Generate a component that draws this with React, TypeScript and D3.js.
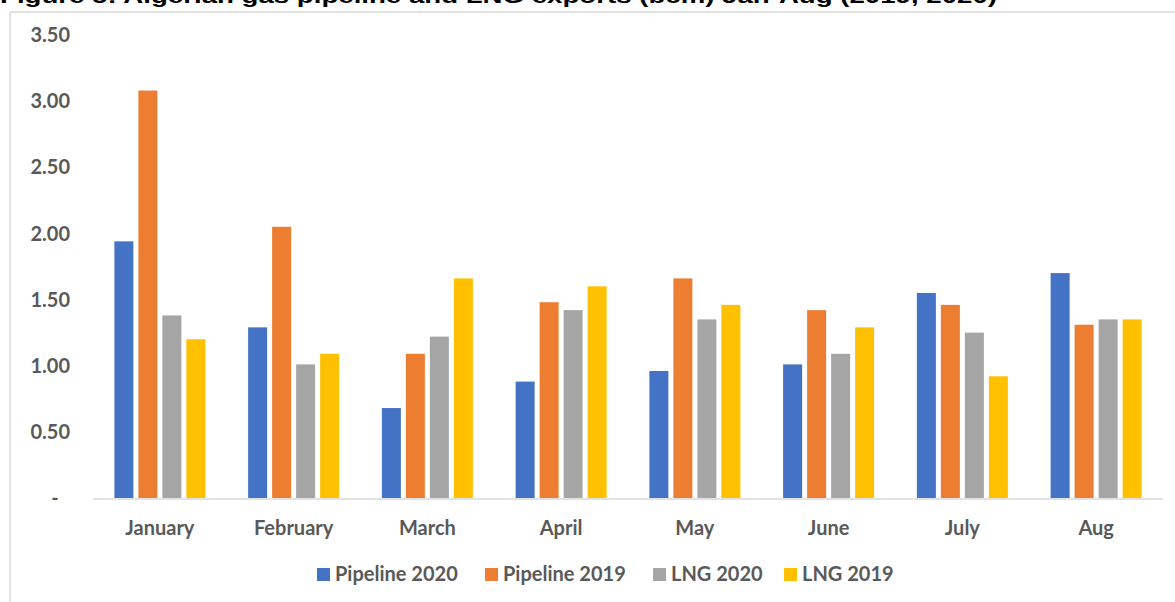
import React from "react";
import * as d3 from "d3";

const categories = ["January", "February", "March", "April", "May", "June", "July", "Aug"];
const seriesNames = ["Pipeline 2020", "Pipeline 2019", "LNG 2020", "LNG 2019"];
const pipeline2020 = [1.94, 1.29, 0.68, 0.88, 0.96, 1.01, 1.55, 1.70];
const pipeline2019 = [3.08, 2.05, 1.09, 1.48, 1.66, 1.42, 1.46, 1.31];
const lng2020 = [1.38, 1.01, 1.22, 1.42, 1.35, 1.09, 1.25, 1.35];
const lng2019 = [1.20, 1.09, 1.66, 1.60, 1.46, 1.29, 0.92, 1.35];
const yTicks = [0, 0.5, 1, 1.5, 2, 2.5, 3, 3.5];
const yTickLabels = ["-", "0.50", "1.00", "1.50", "2.00", "2.50", "3.00", "3.50"];
const titleText = "Figure 5: Algerian gas pipeline and LNG exports (bcm) Jan-Aug (2019, 2020)";

const colors = ["#4472C4", "#ED7D31", "#A5A5A5", "#FFC000"];
const seriesValues = [pipeline2020, pipeline2019, lng2020, lng2019];

const W = 1175;
const H = 602;
const font = "Lato, 'Open Sans', sans-serif";
const textColor = "#595959";

export default function App() {
  const x0 = d3.scaleBand<string>().domain(categories).range([93, 1163]).paddingInner(0).paddingOuter(0);
  const groupW = 91;
  const x1 = d3.scaleBand<string>().domain(seriesNames).range([0, groupW]).paddingInner(5 / 24).paddingOuter(0);
  const y = d3.scaleLinear().domain([0, 3.5]).range([498, 35]);
  const off = (x0.bandwidth() - groupW) / 2;

  const legendX = [317, 485, 653, 784];

  return (
    <svg
      width={W}
      height={H}
      style={{ position: "absolute", left: 0, top: 0, background: "#fff" }}
      xmlns="http://www.w3.org/2000/svg"
    >
      <rect x={0} y={0} width={W} height={H} fill="#fff" />
      <text
        x={0}
        y={2.5}
        fontFamily="'Liberation Sans', Arial, sans-serif"
        fontWeight="bold"
        fontSize={20}
        fill="#000"
        textLength={997}
        lengthAdjust="spacingAndGlyphs"
      >
        {titleText}
      </text>
      {/* frame */}
      <line x1={10} y1={12} x2={W} y2={12} stroke="#d9d9d9" strokeWidth={1.5} />
      <line x1={10} y1={12} x2={10} y2={H} stroke="#d9d9d9" strokeWidth={1.5} />

      {/* y tick labels */}
      {yTicks.map((t, i) => (
        <text
          key={t}
          x={t === 0 ? 55 : 70}
          y={y(t)}
          dy="0.36em"
          textAnchor={t === 0 ? "middle" : "end"}
          fontFamily={font}
          fontWeight="bold"
          fontSize={20}
          fill={textColor}
        >
          {yTickLabels[i]}
        </text>
      ))}

      {/* bars */}
      {categories.map((c, ci) => (
        <g key={c} transform={`translate(${(x0(c) as number) + off},0)`}>
          {seriesNames.map((s, si) => {
            const v = seriesValues[si][ci];
            return (
              <rect
                key={s}
                x={x1(s) as number}
                y={y(v)}
                width={x1.bandwidth()}
                height={y(0) - y(v)}
                fill={colors[si]}
              />
            );
          })}
        </g>
      ))}

      {/* x axis line */}
      <line x1={93} y1={y(0) + 1} x2={1163} y2={y(0) + 1} stroke="#d9d9d9" strokeWidth={1.5} />

      {/* category labels */}
      {categories.map((c) => (
        <text
          key={c}
          x={(x0(c) as number) + x0.bandwidth() / 2}
          y={535}
          textAnchor="middle"
          fontFamily={font}
          fontWeight="bold"
          fontSize={20}
          fill={textColor}
        >
          {c}
        </text>
      ))}

      {/* legend */}
      {seriesNames.map((s, i) => (
        <g key={s} transform={`translate(${legendX[i]},0)`}>
          <rect x={0} y={568} width={13} height={13} fill={colors[i]} />
          <text x={18} y={581} fontFamily={font} fontWeight="bold" fontSize={20} fill={textColor}>
            {s}
          </text>
        </g>
      ))}
    </svg>
  );
}
